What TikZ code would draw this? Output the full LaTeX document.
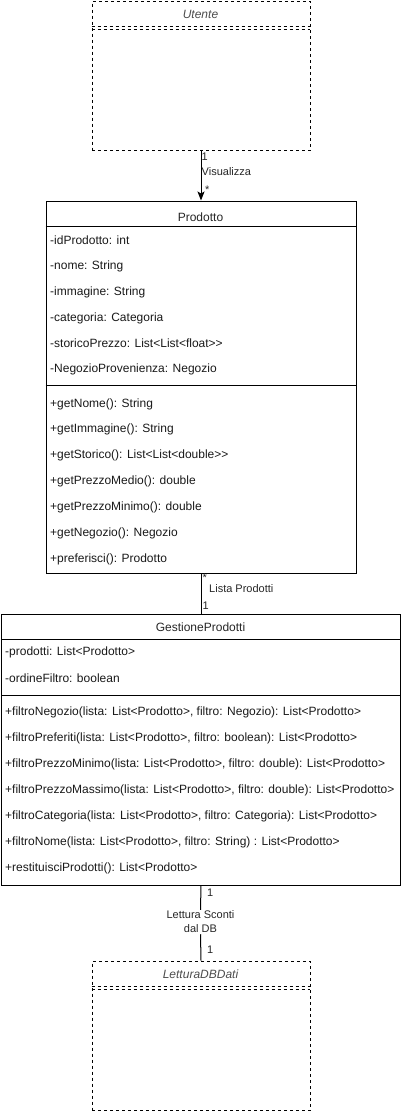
\documentclass[tikz,border=0pt]{standalone}
\usepackage{fontspec}
\setmainfont{Liberation Sans}
\usetikzlibrary{arrows.meta}
\begin{document}
\begin{tikzpicture}[
        x=1pt, y=-1pt,
        font=\fontsize{12}{14}\selectfont,
        classbox/.style={draw, line width=1pt, anchor=north west, inner sep=0pt},
        abstractbox/.style={classbox, dash pattern=on 3pt off 3pt},
        title/.style={font=\fontsize{12}{14}\selectfont, text=black!85},
        abstitle/.style={font=\fontsize{12}{14}\selectfont\itshape, text=black!70},
        member/.style={anchor=west, inner sep=0pt, text=black!90},
        mult/.style={font=\fontsize{11}{14}\selectfont, inner sep=1pt, text=black!85},
        assoc/.style={line width=1pt},
        navig/.style={line width=1pt, -{Stealth[length=9pt, width=7pt, inset=2pt]}}
    ]
        \useasboundingbox (0,0) rectangle (401,1111);

        % Utente (abstract)
        \node[abstractbox, minimum width=218pt, minimum height=149.5pt] (utente) at (91.5,0.5) {};
        \node[abstitle] (utenteT) at (200.5,14) {Utente};
        \draw[dash pattern=on 3pt off 3pt, line width=1pt] (91.5,26) -- (309.5,26);
        \draw[dash pattern=on 3pt off 3pt, line width=1pt] (91.5,29.5) -- (309.5,29.5);

        % Prodotto
        \node[classbox, minimum width=310pt, minimum height=372pt] (prodotto) at (45.5,200.5) {};
        \node[title] (prodottoT) at (200.5,217) {Prodotto};
        \draw[line width=1pt] (45.5,226.5) -- (355.5,226.5);
        \draw[line width=1pt] (45.5,385.5) -- (355.5,385.5);
        \node[member] (pa1) at (50,240) {-idProdotto: int};
        \node[member] (pa2) at (50,266) {-nome: String};
        \node[member] (pa3) at (50,292) {-immagine: String};
        \node[member] (pa4) at (50,318) {-categoria: Categoria};
        \node[member] (pa5) at (50,343) {-storicoPrezzo: List<List<float>{}>};
        \node[member] (pa6) at (50,369) {-NegozioProvenienza: Negozio};
        \node[member] (pm1) at (50,404) {+getNome(): String};
        \node[member] (pm2) at (50,429) {+getImmagine(): String};
        \node[member] (pm3) at (50,455) {+getStorico(): List<List<double>{}>};
        \node[member] (pm4) at (50,481) {+getPrezzoMedio(): double};
        \node[member] (pm5) at (50,507) {+getPrezzoMinimo(): double};
        \node[member] (pm6) at (50,533) {+getNegozio(): Negozio};
        \node[member] (pm7) at (50,559) {+preferisci(): Prodotto};

        % GestioneProdotti
        \node[classbox, minimum width=399pt, minimum height=271pt] (gestione) at (1,613.5) {};
        \node[title] (gestioneT) at (200.5,627) {GestioneProdotti};
        \draw[line width=1pt] (1,639.5) -- (400,639.5);
        \draw[line width=1pt] (1,695.5) -- (400,695.5);
        \node[member] (ga1) at (5,652) {-prodotti: List<Prodotto>};
        \node[member] (ga2) at (5,678) {-ordineFiltro: boolean};
        \node[member] (gm1) at (5,712) {+filtroNegozio(lista: List<Prodotto>, filtro: Negozio): List<Prodotto>};
        \node[member] (gm2) at (5,738) {+filtroPreferiti(lista: List<Prodotto>, filtro: boolean): List<Prodotto>};
        \node[member] (gm3) at (5,764) {+filtroPrezzoMinimo(lista: List<Prodotto>, filtro: double): List<Prodotto>};
        \node[member] (gm4) at (5,790) {+filtroPrezzoMassimo(lista: List<Prodotto>, filtro: double): List<Prodotto>};
        \node[member] (gm5) at (5,816) {+filtroCategoria(lista: List<Prodotto>, filtro: Categoria): List<Prodotto>};
        \node[member] (gm6) at (5,842) {+filtroNome(lista: List<Prodotto>, filtro: String) : List<Prodotto>};
        \node[member] (gm7) at (5,868) {+restituisciProdotti(): List<Prodotto>};

        % LetturaDBDati (abstract)
        \node[abstractbox, minimum width=218pt, minimum height=149.5pt] (lettura) at (91.5,960.5) {};
        \node[abstitle] (letturaT) at (200.5,974) {LetturaDBDati};
        \draw[dash pattern=on 3pt off 3pt, line width=1pt] (91.5,986) -- (309.5,986);
        \draw[dash pattern=on 3pt off 3pt, line width=1pt] (91.5,989.5) -- (309.5,989.5);

        % Associations
        \draw[navig] (utente.south) -- (prodotto.north);
        \node[mult, anchor=west] (visA) at (200.5,157) {1};
        \node[mult, anchor=west] (visL) at (200.5,172) {Visualizza};
        \node[mult, anchor=west] (visB) at (204,190) {*};

        \draw[assoc] (prodotto.south) -- (gestione.north);
        \node[mult, anchor=west] (lisA) at (201.5,578) {*};
        \node[mult, anchor=west] (lisL) at (208,589) {Lista Prodotti};
        \node[mult, anchor=west] (lisB) at (201.5,606) {1};

        \node[mult, align=center] (letL) at (200.5,922) {Lettura Sconti\\dal DB};
        \draw[assoc] (gestione.south) -- (letL.north);
        \draw[assoc] (letL.south) -- (lettura.north);
        \node[mult, anchor=west] (letA) at (206,893) {1};
        \node[mult, anchor=west] (letB) at (206,950) {1};
    \end{tikzpicture}
\end{document}
